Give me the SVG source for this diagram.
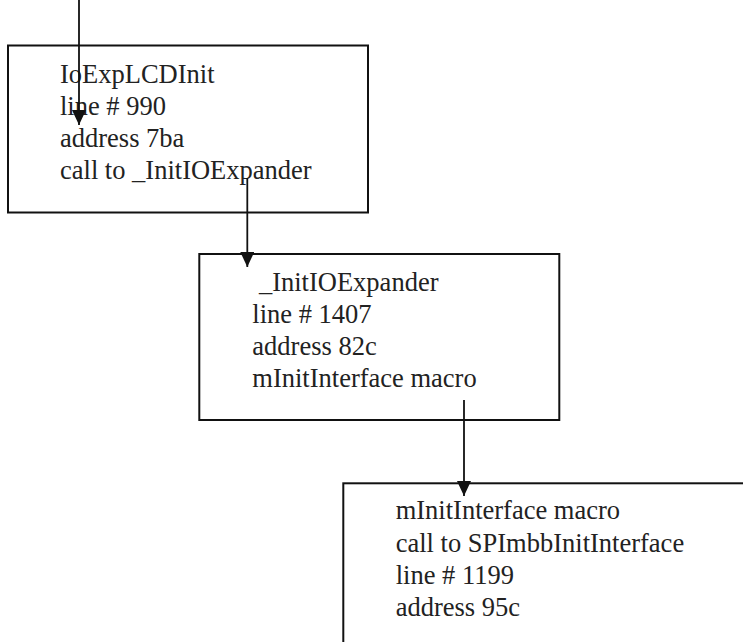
<svg xmlns="http://www.w3.org/2000/svg" width="743" height="642" viewBox="0 0 743 642">
<defs>
<style>
.box{fill:#fff;stroke:#111;stroke-width:2}
.t{font-family:"Liberation Serif","Times New Roman",serif;font-size:26.5px;fill:#222}
.c{stroke:#111;stroke-width:1.8;fill:none;marker-end:url(#ah)}
</style>
<marker id="ah" markerUnits="userSpaceOnUse" viewBox="0 -7 15 14" markerWidth="15" markerHeight="14" refX="15" refY="0" orient="auto">
<path d="M0,-7 L15,0 L0,7 z" fill="#111"/>
</marker>
</defs>
<g id="n1">
<rect class="box" x="8" y="45.5" width="360" height="167"/>
<text class="t" x="60" y="82.7">IoExpLCDInit</text>
<text class="t" x="60" y="115">line # 990</text>
<text class="t" x="60" y="146.7">address 7ba</text>
<text class="t" x="60" y="179">call to _InitIOExpander</text>
</g>
<g id="n2">
<rect class="box" x="199.3" y="254" width="360" height="166"/>
<text class="t" x="252.3" y="291" xml:space="preserve"> _InitIOExpander</text>
<text class="t" x="252.3" y="322.7">line # 1407</text>
<text class="t" x="252.3" y="355">address 82c</text>
<text class="t" x="252.3" y="386.7">mInitInterface macro</text>
</g>
<g id="n3">
<rect class="box" x="343.3" y="483.3" width="500" height="300"/>
<text class="t" x="395.7" y="519.3">mInitInterface macro</text>
<text class="t" x="395.7" y="552.3">call to SPImbbInitInterface</text>
<text class="t" x="395.7" y="584.3">line # 1199</text>
<text class="t" x="395.7" y="615.7">address 95c</text>
</g>
<g id="connectors">
<line class="c" x1="79" y1="0" x2="79" y2="125"/>
<line class="c" x1="247.3" y1="178" x2="247.3" y2="267"/>
<line class="c" x1="464" y1="400" x2="464" y2="496"/>
</g>
</svg>
